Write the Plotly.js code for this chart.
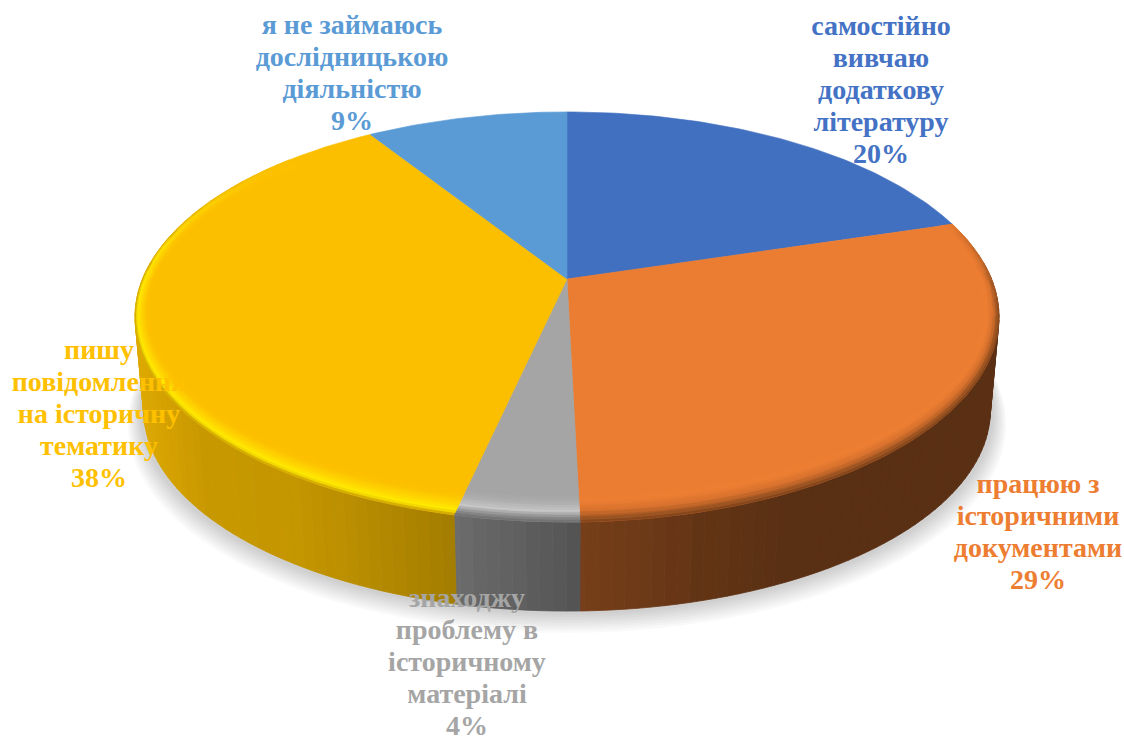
<!DOCTYPE html>
<html><head><meta charset="utf-8">
<script src="https://cdn.plot.ly/plotly-3.0.1.min.js"></script>
<style>html,body{margin:0;padding:0;background:#fff}</style></head>
<body><div id="chart" style="width:1124px;height:738px"></div>
<script>
// ---- data ----
const categories = [
  ["самостійно", "вивчаю", "додаткову", "літературу"],
  ["працюю з", "історичними", "документами"],
  ["знаходжу", "проблему в", "історичному", "матеріалі"],
  ["пишу", "повідомлення", "на історичну", "тематику"],
  ["я не займаюсь", "дослідницькою", "діяльністю"]
];
const values = [20.3, 29.3, 3.9, 37.5, 9];
const sliceColors = ["#4270C0", "#EB7D32", "#A5A5A5", "#FBBF00", "#5B9BD5"];
const textColors  = ["#4472C4", "#ED7D31", "#A5A5A5", "#FFC000", "#5B9BD5"];
const labelX = [881, 1038, 467, 99, 352];
const labelFirstY = [28, 486, 600, 352, 27];
const lineStep = 32;

// ---- projection of the tilted disc ----
const cx = 567, cy = 279, a = 424.5, b = 198, p = 0.185;
const sinD = d => Math.sin(d * Math.PI / 180), cosD = d => Math.cos(d * Math.PI / 180);
function topPt(th, t) {            // t: 0 at the outer edge, 1 at the inner edge of the bevel
  const r = 1 - t * (0.03 * sinD(th) * sinD(th) + 0.085 * cosD(th) * cosD(th));
  const u = sinD(th) * r, v = cosD(th) * r, w = 1 + p * v;
  return [cx + a * u / w, cy - b * v / w];
}
function bottomPt(th, s, d) {
  const u = sinD(th), v = cosD(th), w = 1 + p * v;
  return [cx + s * a * u / w, cy + d - s * b * v / w];
}
const hex = c => [1, 3, 5].map(i => parseInt(c.substr(i, 2), 16));
const rgb = c => "rgb(" + c.map(x => Math.max(0, Math.min(255, Math.round(x / 2) * 2))).join(",") + ")";
const mix = (c1, c2, f) => c1.map((x, i) => x + (c2[i] - x) * f);
function lerpTable(tab, x) {
  for (let i = 1; i < tab.length; i++) if (x <= tab[i][0]) {
    const f = (x - tab[i - 1][0]) / (tab[i][0] - tab[i - 1][0]);
    return tab[i - 1][1] + (tab[i][1] - tab[i - 1][1]) * f;
  }
  return tab[tab.length - 1][1];
}
const sideShade = [[100, .88], [135, .88], [200, .8], [300, .78], [456, .65], [583, .5], [700, .42], [800, .38], [1050, .38]];

const traces = [];
function oriented(poly) {
  let area = 0;
  poly.forEach((q, i) => { const n = poly[(i + 1) % poly.length]; area += q[0] * n[1] - n[0] * q[1]; });
  return area < 0 ? poly.slice().reverse() : poly;
}
function layer(map) {
  map.forEach((pts, col) => {
    const x = [], y = [];
    pts.forEach(raw => { const poly = oriented(raw); poly.forEach(q => { x.push(q[0]); y.push(q[1]); }); x.push(poly[0][0], null); y.push(poly[0][1], null); });
    traces.push({ type: "scatter", mode: "lines", x, y, fill: "toself", fillcolor: col,
      line: { color: col, width: 0.8 }, hoverinfo: "skip", showlegend: false });
  });
}
const put = (m, c, poly) => { if (!m.has(c)) m.set(c, []); m.get(c).push(poly); };

// slice angular ranges from the values
const total = values.reduce((s, v) => s + v, 0);
let acc = 0;
const ranges = values.map(v => { const r = [acc / total * 360, (acc + v) / total * 360]; acc += v; return r; });
function arcSteps(from, to, step) {
  const out = []; let t = from;
  while (t < to - 1e-6) { out.push([t, Math.min(t + step, to)]); t += step; }
  return out;
}

// soft shadow
for (let i = 8; i >= 1; i--) {
  const x = [], y = [];
  for (let th = 0; th <= 360; th += 3) { const q = bottomPt(th, 0.985 + 0.004 * i, 94 + 1.6 * i); x.push(q[0]); y.push(q[1]); }
  traces.push({ type: "scatter", mode: "lines", x, y, fill: "toself", fillcolor: "rgba(0,0,0,0.022)",
    line: { width: 0 }, hoverinfo: "skip", showlegend: false });
}

// side wall
const sideMap = new Map();
ranges.forEach((r, k) => {
  const from = Math.max(r[0], 85), to = Math.min(r[1], 275);
  if (from >= to) return;
  arcSteps(from, to, 1.5).forEach(s => {
    const q1 = topPt(s[0], 0), q2 = topPt(s[1], 0), q3 = bottomPt(s[1], 0.98, 94), q4 = bottomPt(s[0], 0.98, 94);
    const f = lerpTable(sideShade, (q1[0] + q2[0]) / 2);
    put(sideMap, rgb(hex(sliceColors[k]).map(x => x * f)), [q1, q2, q3, q4]);
  });
});
layer(sideMap);

// top face
ranges.forEach((r, k) => {
  const x = [cx], y = [cy];
  for (let th = r[0]; th < r[1]; th += 1) { const q = topPt(th, 0); x.push(q[0]); y.push(q[1]); }
  const e = topPt(r[1], 0); x.push(e[0], cx); y.push(e[1], cy);
  traces.push({ type: "scatter", mode: "lines", x, y, fill: "toself", fillcolor: sliceColors[k],
    line: { color: sliceColors[k], width: 0.6 }, hoverinfo: "skip", showlegend: false });
});

// bevel on the front rim
const profiles = {
  1: [[0, "#7A4019"], [.2, "#A85A24"], [.45, "#D8722E"], [.8, "#EB7D32"], [1, "#EB7D32"]],
  2: [[0, "#6C6C6C"], [.2, "#8C8C8C"], [.45, "#C6C6C6"], [.75, "#B0B0B0"], [1, "#A5A5A5"]],
  3: [[0, "#C89A00"], [.2, "#FFEC00"], [.45, "#FFD800"], [.8, "#FCC400"], [1, "#FBBF00"]]
};
function profileColor(k, t) {
  const pr = profiles[k];
  for (let i = 1; i < pr.length; i++) if (t <= pr[i][0]) {
    return mix(hex(pr[i - 1][1]), hex(pr[i][1]), (t - pr[i - 1][0]) / (pr[i][0] - pr[i - 1][0]));
  }
  return hex(pr[pr.length - 1][1]);
}
const rimWeight = [[0, 0], [70, 0], [100, 1], [270, 1], [312, 0], [360, 0]];
const rimMap = new Map();
const bands = 10;
[1, 2, 3].forEach(k => {
  const r = ranges[k], base = hex(sliceColors[k]);
  arcSteps(r[0], r[1], 2.5).forEach(s => {
    const wgt = lerpTable(rimWeight, (s[0] + s[1]) / 2);
    if (wgt <= 0) return;
    for (let j = 0; j < bands; j++) {
      const t0 = j / bands, t1 = (j + 1) / bands;
      const c = mix(base, profileColor(k, (t0 + t1) / 2), wgt);
      put(rimMap, rgb(c), [topPt(s[0], t0), topPt(s[1], t0), topPt(s[1], t1), topPt(s[0], t1)]);
    }
  });
});
layer(rimMap);

// labels, one text point per line so the line spacing follows the reference
categories.forEach((lines, k) => {
  const all = lines.concat([Math.round(values[k]) + "%"]);
  traces.push({ type: "scatter", mode: "text",
    x: all.map(() => labelX[k]), y: all.map((_, i) => labelFirstY[k] + i * lineStep),
    text: all, textposition: "middle center", cliponaxis: false,
    textfont: { family: "Liberation Serif", size: 28, color: textColors[k], weight: 700 },
    hoverinfo: "skip", showlegend: false });
});

Plotly.newPlot("chart", traces, {
  width: 1124, height: 738, margin: { l: 0, r: 0, t: 0, b: 0 },
  paper_bgcolor: "#fff", plot_bgcolor: "#fff", showlegend: false,
  xaxis: { range: [0, 1124], visible: false, fixedrange: true },
  yaxis: { range: [738, 0], visible: false, fixedrange: true }
}, { displayModeBar: false, staticPlot: true });
</script></body></html>
